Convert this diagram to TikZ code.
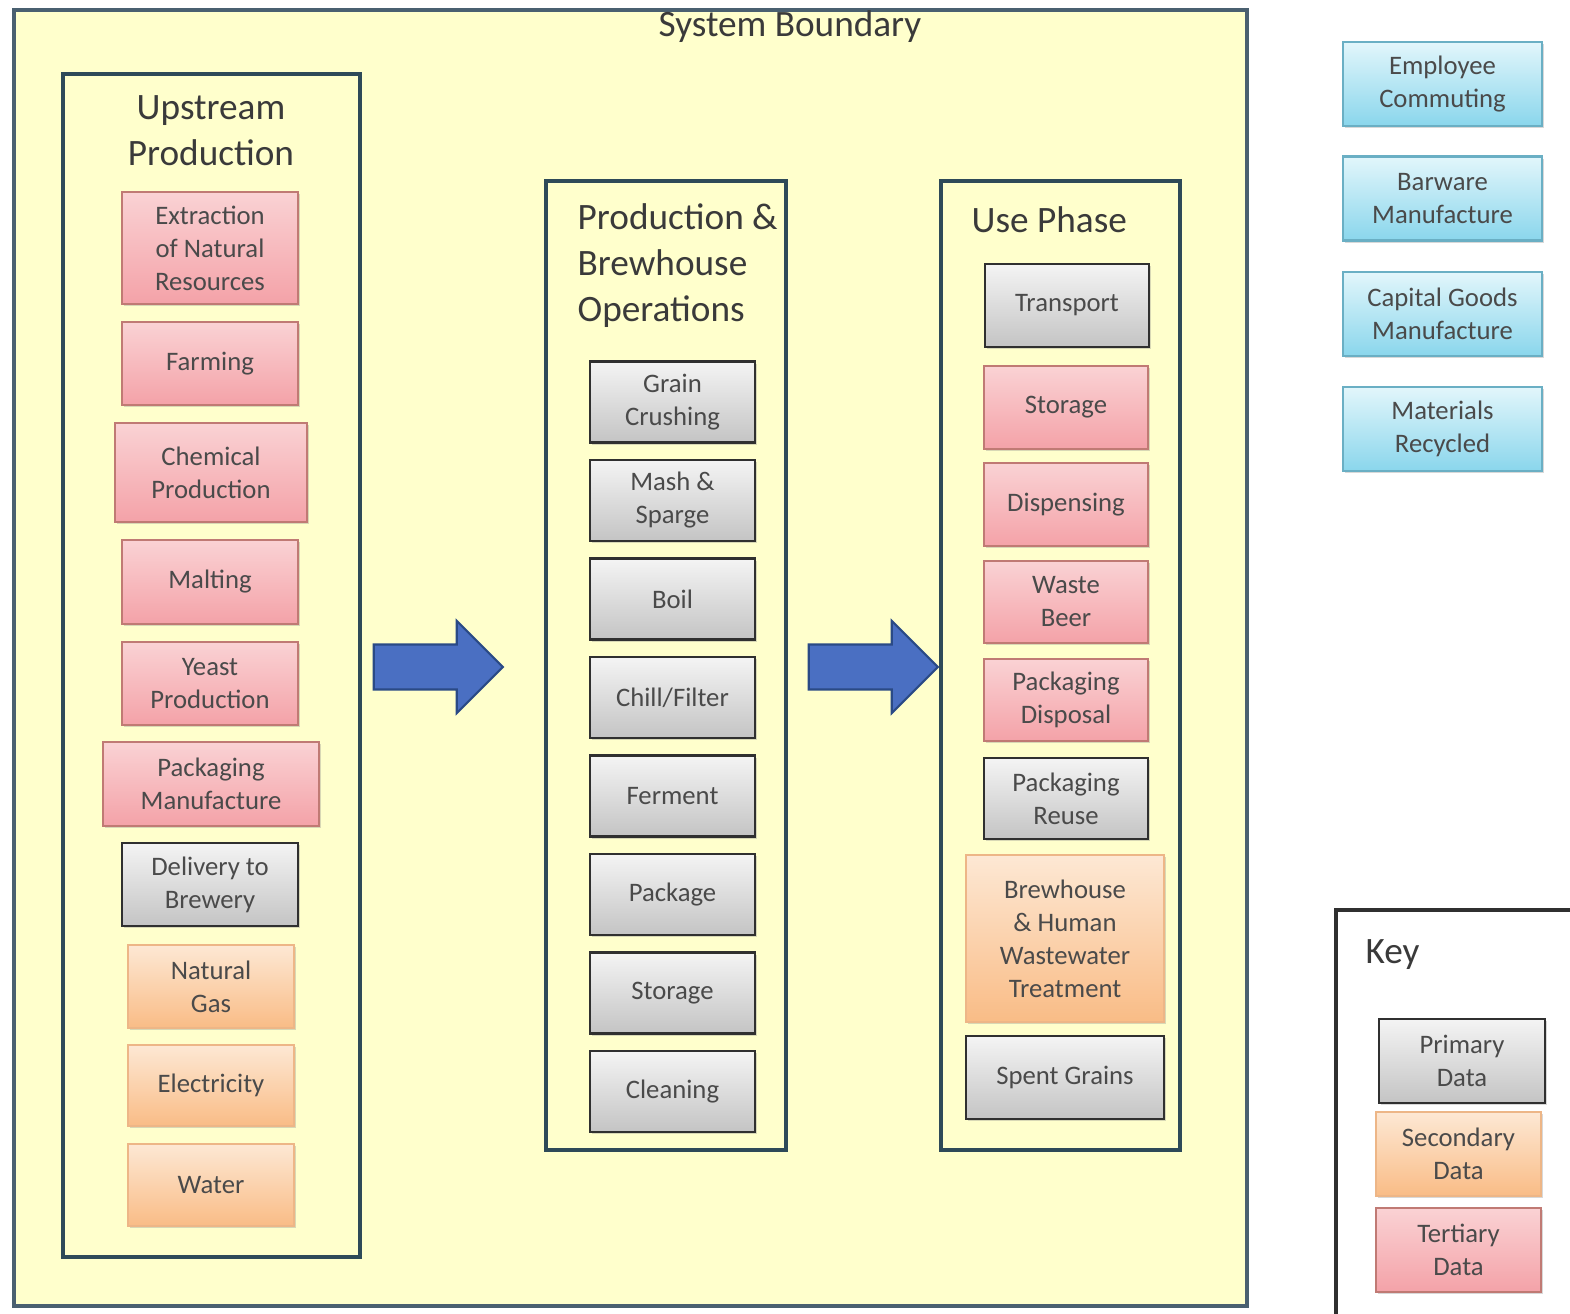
\documentclass[tikz,border=0pt]{standalone}
\usepackage{fontspec}
\setmainfont{Carlito}
\usetikzlibrary{shapes.arrows,shadows}

\definecolor{boundfill}{HTML}{FFFFCC}
\definecolor{boundline}{HTML}{4A6070}
\definecolor{colline}{HTML}{2E4A58}
\definecolor{textgray}{HTML}{4A4A4A}
\definecolor{titlegray}{HTML}{3A3A3A}
\definecolor{primtop}{HTML}{F4F4F4}
\definecolor{primbot}{HTML}{C4C4C4}
\definecolor{primline}{HTML}{303030}
\definecolor{secotop}{HTML}{FDE8D4}
\definecolor{secobot}{HTML}{F9BC86}
\definecolor{secoline}{HTML}{EDB687}
\definecolor{tertop}{HTML}{FAD2D4}
\definecolor{terbot}{HTML}{F4A2A8}
\definecolor{terline}{HTML}{C07A74}
\definecolor{scopetop}{HTML}{E2F6FB}
\definecolor{scopebot}{HTML}{8AD6EC}
\definecolor{scopeline}{HTML}{6AAFC4}
\definecolor{arrowfill}{HTML}{4A6FC2}
\definecolor{arrowline}{HTML}{2A4A86}

\tikzset{
  stagebox/.style={rectangle, align=center, inner sep=1pt,
    font=\fontsize{7.6}{9.4}\selectfont, text=textgray,
    drop shadow={shadow xshift=0.5pt, shadow yshift=-0.7pt, opacity=0.3}},
  primary/.style={stagebox, draw=primline, line width=0.75pt,
    top color=primtop, bottom color=primbot},
  secondary/.style={stagebox, draw=secoline, line width=0.5pt,
    top color=secotop, bottom color=secobot},
  tertiary/.style={stagebox, draw=terline, line width=0.6pt,
    top color=tertop, bottom color=terbot},
  outside/.style={stagebox, draw=scopeline, line width=0.6pt,
    top color=scopetop, bottom color=scopebot},
  column/.style={draw=colline, line width=0.9pt},
  coltitle/.style={font=\fontsize{10.6}{13.1}\selectfont, text=titlegray, inner sep=0pt},
  flow/.style={single arrow, draw=arrowline, fill=arrowfill, line width=0.6pt,
    minimum height=1.29cm, inner sep=0.215cm, single arrow head extend=0.235cm}
}

\begin{document}
\begin{tikzpicture}
  \useasboundingbox[fill=white] (0,0) rectangle (15.70,-13.14);

  % system boundary
  \draw[fill=boundfill, draw=boundline, line width=0.9pt] (0.14,-0.10) rectangle (12.47,-13.06);
  \node[coltitle] (boundary) at (7.90,-0.27) {System Boundary};

  % upstream production
  \draw[column] (0.63,-0.74) rectangle (3.60,-12.57);
  \node[coltitle, align=center] (upstream) at (2.11,-1.31) {Upstream\\Production};
  \node[tertiary, minimum width=1.76cm, minimum height=1.12cm] (extraction) at (2.10,-2.48) {Extraction\\of Natural\\Resources};
  \node[tertiary, minimum width=1.76cm, minimum height=0.83cm] (farming) at (2.10,-3.635) {Farming};
  \node[tertiary, minimum width=1.92cm, minimum height=0.99cm] (chemical) at (2.11,-4.725) {Chemical\\Production};
  \node[tertiary, minimum width=1.76cm, minimum height=0.84cm] (malting) at (2.10,-5.82) {Malting};
  \node[tertiary, minimum width=1.76cm, minimum height=0.83cm] (yeast) at (2.10,-6.835) {Yeast\\Production};
  \node[tertiary, minimum width=2.16cm, minimum height=0.84cm] (packmanuf) at (2.11,-7.84) {Packaging\\Manufacture};
  \node[primary, minimum width=1.76cm, minimum height=0.83cm] (delivery) at (2.10,-8.845) {Delivery to\\Brewery};
  \node[secondary, minimum width=1.66cm, minimum height=0.83cm] (natgas) at (2.11,-9.865) {Natural\\Gas};
  \node[secondary, minimum width=1.66cm, minimum height=0.81cm] (electricity) at (2.11,-10.855) {Electricity};
  \node[secondary, minimum width=1.66cm, minimum height=0.82cm] (water) at (2.11,-11.85) {Water};

  % production & brewhouse operations
  \draw[column] (5.46,-1.81) rectangle (7.86,-11.50);
  \node[coltitle, anchor=north west, align=left] (brewhouse) at (5.77,-2.03) {Production \&\\Brewhouse\\Operations};
  \foreach \name/\txt [count=\i from 0] in {crushing/Grain\\Crushing, mash/Mash \&\\Sparge, boil/Boil,
      chill/{Chill/Filter}, ferment/Ferment, package/Package, storage/Storage, cleaning/Cleaning}
    \node[primary, minimum width=1.65cm, minimum height=0.81cm] (\name) at (6.725,-4.02-0.985*\i) {\txt};

  % use phase
  \draw[column] (9.41,-1.81) rectangle (11.80,-11.50);
  \node[coltitle, anchor=west] (usephase) at (9.71,-2.20) {Use Phase};
  \node[primary, minimum width=1.64cm, minimum height=0.83cm] (transport) at (10.67,-3.055) {Transport};
  \node[tertiary, minimum width=1.64cm, minimum height=0.83cm] (usestorage) at (10.66,-4.075) {Storage};
  \node[tertiary, minimum width=1.64cm, minimum height=0.83cm] (dispensing) at (10.66,-5.045) {Dispensing};
  \node[tertiary, minimum width=1.64cm, minimum height=0.82cm] (wastebeer) at (10.66,-6.02) {Waste\\Beer};
  \node[tertiary, minimum width=1.64cm, minimum height=0.82cm] (packdisposal) at (10.66,-7.00) {Packaging\\Disposal};
  \node[primary, minimum width=1.64cm, minimum height=0.81cm] (packreuse) at (10.66,-7.985) {Packaging\\Reuse};
  \node[secondary, minimum width=1.98cm, minimum height=1.67cm] (wastewater) at (10.65,-9.385) {Brewhouse\\\& Human\\Wastewater\\Treatment};
  \node[primary, minimum width=1.98cm, minimum height=0.83cm] (spentgrains) at (10.65,-10.775) {Spent Grains};

  % flow arrows
  \node[flow] (flowone) at (4.27,-6.67) {};
  \node[flow] (flowtwo) at (8.62,-6.67) {};

  % outside the boundary
  \node[outside, minimum width=1.99cm, minimum height=0.84cm] (commuting) at (14.425,-0.84) {Employee\\Commuting};
  \node[outside, minimum width=1.99cm, minimum height=0.84cm] (barware) at (14.425,-1.985) {Barware\\Manufacture};
  \node[outside, minimum width=1.99cm, minimum height=0.84cm] (capital) at (14.425,-3.14) {Capital Goods\\Manufacture};
  \node[outside, minimum width=1.99cm, minimum height=0.84cm] (recycled) at (14.425,-4.29) {Materials\\Recycled};

  % key
  \draw[fill=white, draw=primline, line width=0.9pt] (13.36,-9.10) rectangle (15.95,-13.40);
  \node[coltitle, anchor=west] (key) at (13.65,-9.55) {Key};
  \node[primary, minimum width=1.66cm, minimum height=0.84cm] (keyprimary) at (14.62,-10.61) {Primary\\Data};
  \node[secondary, minimum width=1.65cm, minimum height=0.84cm] (keysecondary) at (14.585,-11.54) {Secondary\\Data};
  \node[tertiary, minimum width=1.65cm, minimum height=0.84cm] (keytertiary) at (14.585,-12.50) {Tertiary\\Data};
\end{tikzpicture}
\end{document}
